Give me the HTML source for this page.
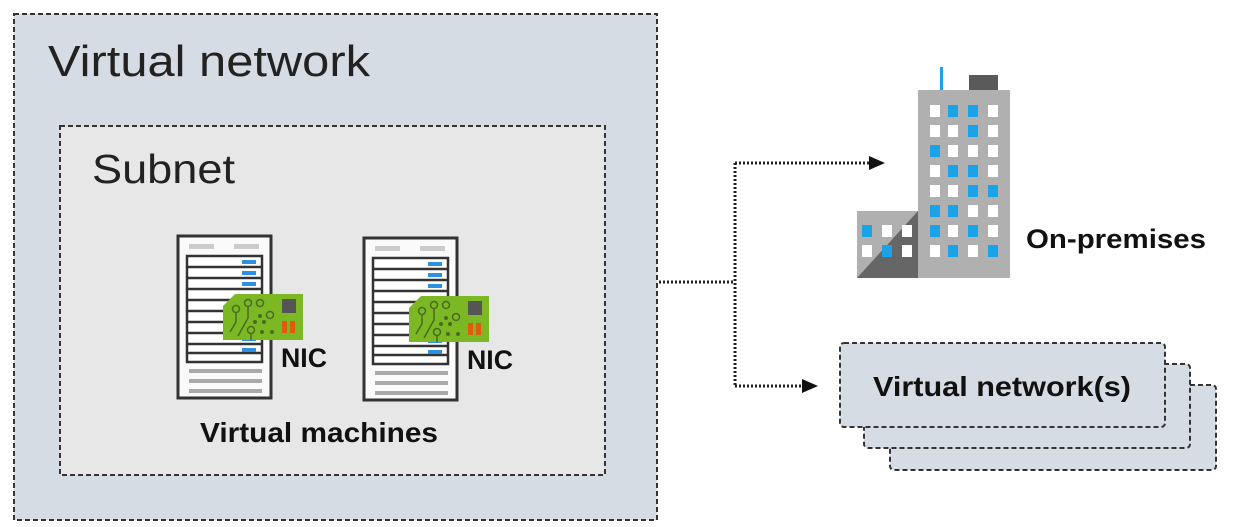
<!DOCTYPE html>
<html><head><meta charset="utf-8"><style>
html,body{margin:0;padding:0;background:#fff;width:1247px;height:527px;overflow:hidden}
svg{display:block}
text{font-family:"Liberation Sans","DejaVu Sans",sans-serif}
</style></head><body>
<svg width="1247" height="527" viewBox="0 0 1247 527" xmlns="http://www.w3.org/2000/svg">
<defs>
<g id="server">
  <rect x="0" y="0" width="93" height="162" fill="#fafafa" stroke="#333" stroke-width="3"/>
  <rect x="11" y="8" width="25" height="5" fill="#ccc"/><rect x="56" y="8" width="25" height="5" fill="#ccc"/>
  <rect x="9" y="20" width="75" height="106" fill="#fff" stroke="#333" stroke-width="2.5"/>
  <g stroke="#333" stroke-width="2.5">
    <line x1="9" y1="31" x2="84" y2="31"/><line x1="9" y1="42" x2="84" y2="42"/><line x1="9" y1="53" x2="84" y2="53"/>
    <line x1="9" y1="64" x2="84" y2="64"/><line x1="9" y1="75" x2="84" y2="75"/><line x1="9" y1="86" x2="84" y2="86"/>
    <line x1="9" y1="97" x2="84" y2="97"/><line x1="9" y1="108" x2="84" y2="108"/><line x1="9" y1="117" x2="84" y2="117"/>
  </g>
  <g fill="#2f8fe0">
    <rect x="64" y="24" width="14" height="4"/><rect x="64" y="35" width="14" height="4"/><rect x="64" y="46" width="14" height="4"/>
    <rect x="64" y="101" width="14" height="4"/><rect x="64" y="112" width="14" height="4"/>
  </g>
  <g fill="#aaa"><rect x="11" y="133" width="73" height="4"/><rect x="11" y="143" width="73" height="4"/><rect x="11" y="153" width="73" height="4"/></g>
  <path d="M57 58 L125 58 L125 104 L45 104 L45 70 Z" fill="#7cb823"/>
  <rect x="104" y="63" width="14" height="14" fill="#555"/>
  <rect x="104" y="85" width="5" height="12" fill="#e05a10"/><rect x="112" y="85" width="5" height="12" fill="#e05a10"/>
  <g fill="none" stroke="#4a6b20" stroke-width="1.5">
    <circle cx="70" cy="67" r="3.5"/><circle cx="82" cy="67" r="3.5"/><circle cx="58" cy="73" r="3.5"/><circle cx="92" cy="79" r="3.5"/><circle cx="73" cy="94" r="3.5"/>
    <path d="M58 77 L58 86 L52 96 M70 71 L70 82 L60 100 M73 98 L73 104"/>
  </g>
  <g fill="#4a6b20"><circle cx="82" cy="80" r="2"/><circle cx="77" cy="86" r="2"/><circle cx="86" cy="86" r="2"/><circle cx="84" cy="96" r="2"/><circle cx="94" cy="96" r="2"/></g>
</g>
</defs>
<rect x="14" y="14" width="643" height="506" fill="#d6dce4" stroke="#333" stroke-width="2" stroke-dasharray="5,3"/>
<text x="48" y="76" font-size="44" fill="#222" textLength="322" lengthAdjust="spacingAndGlyphs">Virtual network</text>
<rect x="60" y="126" width="545" height="349" fill="#e7e7e7" stroke="#333" stroke-width="2" stroke-dasharray="5,3"/>
<text x="92" y="183" font-size="41" fill="#222" textLength="143" lengthAdjust="spacingAndGlyphs">Subnet</text>
<use href="#server" x="178" y="236"/>
<use href="#server" x="364" y="238"/>
<text x="281" y="367" font-size="27" font-weight="bold" fill="#111" textLength="46" lengthAdjust="spacingAndGlyphs">NIC</text>
<text x="467" y="369" font-size="27" font-weight="bold" fill="#111" textLength="46" lengthAdjust="spacingAndGlyphs">NIC</text>
<text x="200" y="442" font-size="28" font-weight="bold" fill="#111" textLength="238" lengthAdjust="spacingAndGlyphs">Virtual machines</text>
<g stroke="#222" stroke-width="3" stroke-dasharray="2,2" fill="none">
  <line x1="659" y1="282" x2="735" y2="282"/>
  <line x1="735" y1="163" x2="735" y2="386"/>
  <line x1="735" y1="163" x2="870" y2="163"/>
  <line x1="735" y1="386" x2="803" y2="386"/>
</g>
<path d="M869 156 L885 163 L869 170 Z" fill="#111"/>
<path d="M802 379 L818 386 L802 393 Z" fill="#111"/>
<rect x="918" y="90" width="92" height="188" fill="#b0b0b0"/>
<rect x="940" y="67" width="3" height="23" fill="#1aa3e8"/>
<rect x="969" y="75" width="29" height="15" fill="#5a5a5a"/>
<g>
  <rect x="857" y="211" width="61" height="67" fill="#b0b0b0"/>
  <path d="M857 278 L918 211 L918 278 Z" fill="#666"/>
</g>
<g fill="#fff">
<rect x="930" y="105" width="10" height="12"/><rect x="988" y="105" width="10" height="12"/>
<rect x="930" y="125" width="10" height="12"/><rect x="948" y="125" width="10" height="12"/><rect x="988" y="125" width="10" height="12"/>
<rect x="948" y="145" width="10" height="12"/><rect x="968" y="145" width="10" height="12"/><rect x="988" y="145" width="10" height="12"/>
<rect x="930" y="165" width="10" height="12"/><rect x="988" y="165" width="10" height="12"/>
<rect x="930" y="185" width="10" height="12"/><rect x="948" y="185" width="10" height="12"/>
<rect x="968" y="205" width="10" height="12"/><rect x="988" y="205" width="10" height="12"/>
<rect x="948" y="225" width="10" height="12"/><rect x="988" y="225" width="10" height="12"/>
<rect x="930" y="245" width="10" height="12"/><rect x="968" y="245" width="10" height="12"/>
<rect x="882" y="225" width="10" height="12"/><rect x="902" y="225" width="10" height="12"/>
<rect x="862" y="245" width="10" height="12"/><rect x="902" y="245" width="10" height="12"/>
</g>
<g fill="#1aa3e8">
<rect x="948" y="105" width="10" height="12"/><rect x="968" y="105" width="10" height="12"/>
<rect x="968" y="125" width="10" height="12"/>
<rect x="930" y="145" width="10" height="12"/>
<rect x="948" y="165" width="10" height="12"/><rect x="968" y="165" width="10" height="12"/>
<rect x="968" y="185" width="10" height="12"/><rect x="988" y="185" width="10" height="12"/>
<rect x="930" y="205" width="10" height="12"/><rect x="948" y="205" width="10" height="12"/>
<rect x="930" y="225" width="10" height="12"/><rect x="968" y="225" width="10" height="12"/>
<rect x="948" y="245" width="10" height="12"/><rect x="988" y="245" width="10" height="12"/>
<rect x="862" y="225" width="10" height="12"/><rect x="882" y="245" width="10" height="12"/>
</g>
<text x="1026" y="248" font-size="27" font-weight="bold" fill="#111" textLength="180" lengthAdjust="spacingAndGlyphs">On-premises</text>
<g stroke="#333" stroke-width="2" stroke-dasharray="5,3" fill="#d6dce4">
  <rect x="890" y="385" width="326" height="85" rx="4"/>
  <rect x="864" y="364" width="326" height="84" rx="4"/>
  <rect x="840" y="343" width="325" height="84" rx="4"/>
</g>
<text x="873" y="396" font-size="28" font-weight="bold" fill="#111" textLength="258" lengthAdjust="spacingAndGlyphs">Virtual network(s)</text>
</svg>
</body></html>
